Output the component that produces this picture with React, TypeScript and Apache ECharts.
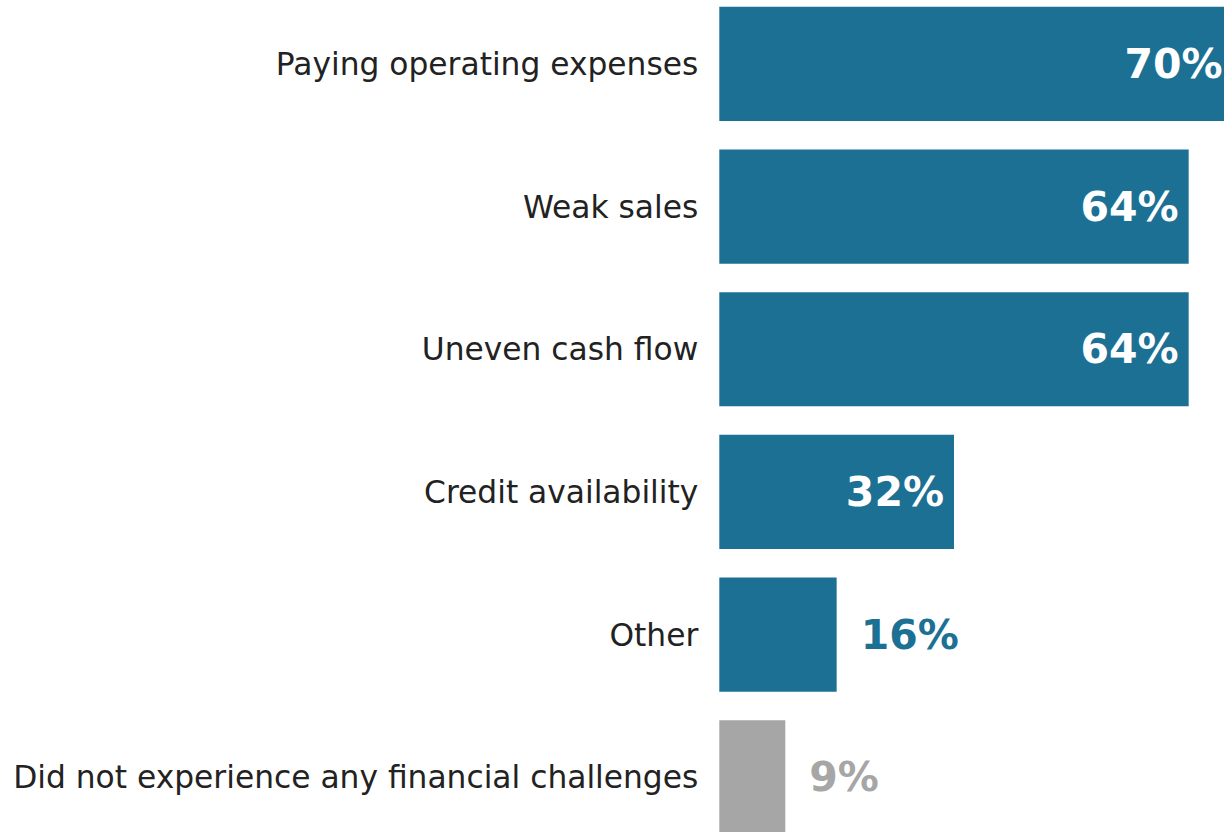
import React, { useEffect, useRef } from "react";
import * as echarts from "echarts";

const categories = [
  "Paying operating expenses",
  "Weak sales",
  "Uneven cash flow",
  "Credit availability",
  "Other",
  "Did not experience any financial challenges",
];
const values = [70, 64, 64, 32, 16, 9];
const noneCategory = "Did not experience any financial challenges";

const BLUE = "#1b7093";
const GRAY = "#a6a6a6";
const OFFSET_TOP = 20;

export default function App() {
  const ref = useRef<HTMLDivElement>(null);
  useEffect(() => {
    if (!ref.current) return;
    const chart = echarts.init(ref.current, undefined, { renderer: "svg" });
    const data = values.map((v, i) => {
      const isNone = categories[i] === noneCategory;
      const color = isNone ? GRAY : BLUE;
      const inside = v >= 30;
      return {
        value: v,
        itemStyle: { color },
        label: {
          show: true,
          position: inside ? "insideRight" : "right",
          distance: inside ? 10 : 24,
          color: inside ? "#ffffff" : color,
          formatter: "{c}%",
          fontFamily: "DejaVu Sans",
          fontWeight: "bold",
          fontSize: 41,
        },
      };
    });
    chart.setOption({
      animation: false,
      backgroundColor: "#ffffff",
      grid: {
        left: 719.3,
        top: -7.5 + OFFSET_TOP,
        width: 733.4,
        height: 856.2,
        containLabel: false,
      },
      xAxis: {
        type: "value",
        min: 0,
        max: 100,
        show: false,
        splitLine: { show: false },
      },
      yAxis: {
        type: "category",
        data: categories,
        inverse: true,
        axisLine: { show: false },
        axisTick: { show: false },
        axisLabel: {
          color: "#222222",
          fontFamily: "DejaVu Sans",
          fontSize: 31.3,
          margin: 21,
        },
      },
      series: [
        {
          type: "bar",
          data,
          barCategoryGap: "20%",
        },
      ],
    });
    return () => chart.dispose();
  }, []);
  return (
    <div
      style={{
        position: "fixed",
        left: 0,
        top: 0,
        width: 1224,
        height: 832,
        overflow: "hidden",
        background: "#ffffff",
      }}
    >
      <div
        ref={ref}
        style={{
          position: "absolute",
          left: 0,
          top: -OFFSET_TOP,
          width: 1500,
          height: 900,
        }}
      />
    </div>
  );
}
